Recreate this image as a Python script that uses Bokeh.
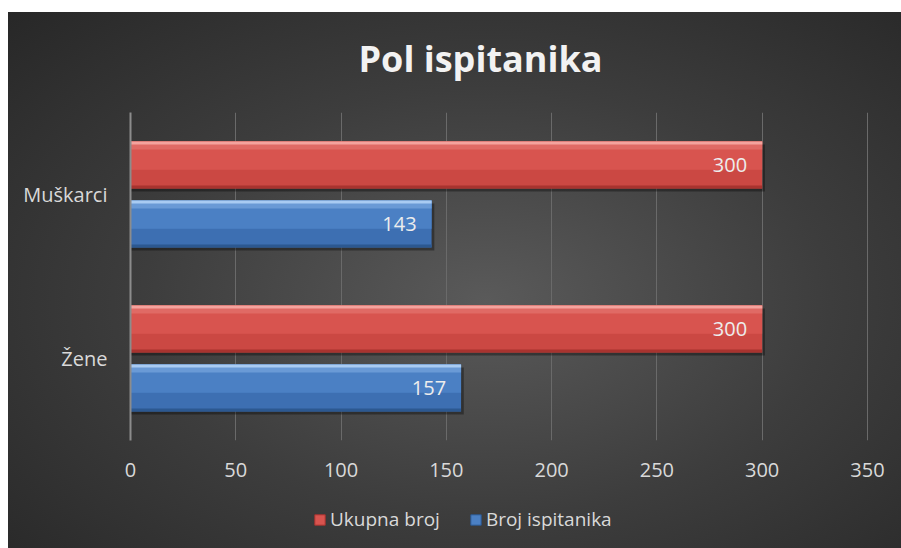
from bokeh.plotting import figure
from bokeh.models import (ColumnDataSource, FactorRange, Range1d, Legend,
                          LegendItem, FixedTicker)
from bokeh.layouts import column
from bokeh.transform import dodge
from bokeh.core.properties import value
from bokeh.embed import file_html
from bokeh.resources import INLINE

# ---- data ----
categories = ["Muškarci", "Žene"]
ukupna_broj = [300, 300]
broj_ispitanika = [143, 157]
x_ticks = [0, 50, 100, 150, 200, 250, 300, 350]
title_text = "Pol ispitanika"
series_names = ["Ukupna broj", "Broj ispitanika"]

FONT = "Open Sans"
PX = 1.0 / 164.0  # one pixel in category units

RED = ("#CB4843", "#D8544F", "#E06A65", "#F4A39E", "#A8332F")
BLUE = ("#3D6FB2", "#4B80C4", "#6A9AD6", "#A9CBF2", "#2C5890")

src = ColumnDataSource(dict(
    cat=categories,
    ukupno=ukupna_broj,
    broj=broj_ispitanika,
    ukupno_shadow=[v + 1.3 for v in ukupna_broj],
    broj_shadow=[v + 1.3 for v in broj_ispitanika],
    lbl_u=[str(v) for v in ukupna_broj],
    lbl_b=[str(v) for v in broj_ispitanika],
))

p = figure(width=901, height=490, output_backend="svg", toolbar_location=None,
           y_range=FactorRange(factors=["Žene", "Muškarci"], range_padding=0),
           x_range=Range1d(0, 360),
           min_border_left=130, min_border_right=13,
           min_border_top=112, min_border_bottom=50)

p.background_fill_color = None
p.border_fill_color = None
p.outline_line_color = None

H = 0.287
OFF = 0.18


def bar(right, off, colors):
    c_base, c_upper, c_band, c_edge, c_bottom = colors
    p.hbar(y=dodge('cat', off - 3 * PX, range=p.y_range), height=H, left=0,
           right=right + "_shadow", source=src, fill_color="black",
           fill_alpha=0.35, line_color=None)
    p.hbar(y=dodge('cat', off, range=p.y_range), height=H, left=0,
           right=right, source=src, fill_color=c_base, line_color=None)
    up_h = H * 0.6
    p.hbar(y=dodge('cat', off + H / 2 - up_h / 2, range=p.y_range), height=up_h,
           left=0, right=right, source=src, fill_color=c_upper, line_color=None)
    band_h = 8 * PX
    p.hbar(y=dodge('cat', off + H / 2 - band_h / 2, range=p.y_range), height=band_h,
           left=0, right=right, source=src, fill_color=c_band, line_color=None)
    edge_h = 3 * PX
    p.hbar(y=dodge('cat', off + H / 2 - edge_h / 2, range=p.y_range), height=edge_h,
           left=0, right=right, source=src, fill_color=c_edge, line_color=None)
    bot_h = 3 * PX
    p.hbar(y=dodge('cat', off - H / 2 + bot_h / 2, range=p.y_range), height=bot_h,
           left=0, right=right, source=src, fill_color=c_bottom, line_color=None)


bar('ukupno', OFF, RED)
bar('broj', -OFF, BLUE)

for col, lbl, off in (("ukupno", "lbl_u", OFF), ("broj", "lbl_b", -OFF)):
    p.text(x=col, y=dodge('cat', off, range=p.y_range), text=lbl, source=src,
           x_offset=-15, text_align="right", text_baseline="middle",
           text_font=value(FONT), text_font_size="20px", text_color="#EDEDED")

p.xaxis.ticker = FixedTicker(ticks=x_ticks)
p.xaxis.axis_line_color = None
p.xaxis.major_tick_line_color = None
p.xaxis.minor_tick_line_color = None
p.xaxis.major_label_text_font = FONT
p.xaxis.major_label_text_font_size = "20px"
p.xaxis.major_label_text_color = "#D9D9D9"
p.xaxis.major_label_standoff = 16

p.yaxis.axis_line_color = "#8C8C8C"
p.yaxis.axis_line_width = 2
p.yaxis.major_tick_line_color = None
p.yaxis.minor_tick_line_color = None
p.yaxis.major_label_text_font = FONT
p.yaxis.major_label_text_font_size = "20px"
p.yaxis.major_label_text_color = "#D9D9D9"
p.yaxis.major_label_standoff = 17

p.ygrid.grid_line_color = None
p.xgrid.ticker = FixedTicker(ticks=x_ticks)
p.xgrid.grid_line_color = "#6A6A6A"
p.xgrid.grid_line_width = 1

p.title.text = title_text
p.title.align = "left"
p.title.offset = 228
p.title.standoff = 60
p.title.text_font = FONT
p.title.text_font_size = "36px"
p.title.text_font_style = "bold"
p.title.text_color = "#F2F2F2"

# ---- legend strip (own small figure, legend drawn inside its frame) ----
q = figure(width=901, height=58, output_backend="svg", toolbar_location=None,
           x_range=Range1d(0, 360), y_range=FactorRange(factors=categories),
           x_axis_type=None, y_axis_type=None,
           min_border_left=0, min_border_right=0, min_border_top=0, min_border_bottom=0)
q.background_fill_color = None
q.border_fill_color = None
q.outline_line_color = None
q.xgrid.visible = False
q.ygrid.visible = False
r_red = q.hbar(y='cat', right='ukupno', left=0, height=H, source=src,
               fill_color=RED[1], line_color=RED[4], line_width=1, visible=False)
r_blue = q.hbar(y='cat', right='broj', left=0, height=H, source=src,
                fill_color=BLUE[1], line_color=BLUE[4], line_width=1, visible=False)

legend = Legend(items=[LegendItem(label=series_names[0], renderers=[r_red]),
                       LegendItem(label=series_names[1], renderers=[r_blue])],
                orientation="horizontal", location=(183, 16),
                label_text_font=FONT, label_text_font_size="19px",
                label_text_color="#D9D9D9", glyph_width=13, glyph_height=13,
                spacing=29, label_standoff=4, background_fill_alpha=0,
                border_line_color=None, margin=0, padding=0,
                inactive_fill_alpha=0)
q.add_layout(legend, "center")

layout = column(p, q, spacing=0)
layout.styles = {"background": "linear-gradient(#ffffff, #ffffff) 0 0 / 100% 12px no-repeat, "
                               "linear-gradient(#ffffff, #ffffff) 0 0 / 8px 100% no-repeat, "
                               "radial-gradient(ellipse farthest-corner at 54% 55%, "
                               "#5a5a5a 0%, #3d3d3d 50%, #262626 100%)"}

open("out.html", "w").write(file_html(layout, INLINE))
